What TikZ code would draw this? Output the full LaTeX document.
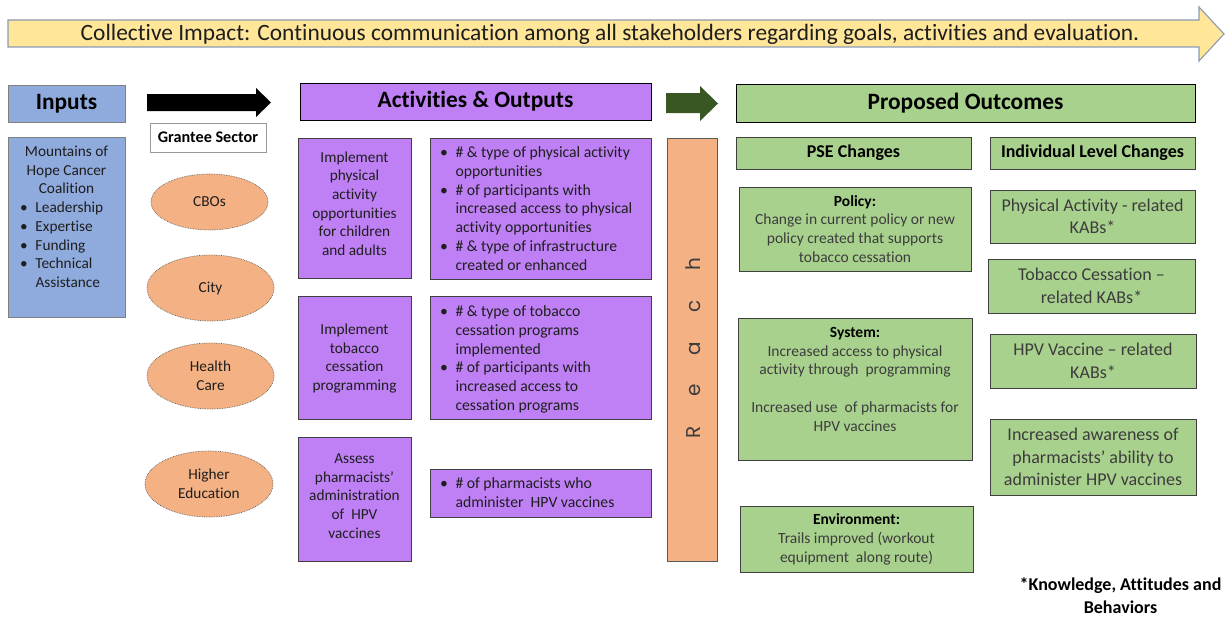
\documentclass[tikz,border=0pt]{standalone}
\usepackage{fontspec}
\setmainfont{Carlito}[Ligatures=NoCommon]
\newfontfamily\reachfont{Poppins}
\usetikzlibrary{shapes.geometric}
\definecolor{inblue}{RGB}{143,170,220}
\definecolor{purp}{RGB}{191,128,245}
\definecolor{orng}{RGB}{244,177,131}
\definecolor{grn}{RGB}{169,209,142}
\definecolor{dgrn}{RGB}{56,87,35}
\definecolor{ylw}{RGB}{255,230,153}
\definecolor{bannerline}{RGB}{140,155,178}
\definecolor{txt}{RGB}{30,30,30}
\definecolor{txtg}{RGB}{60,60,60}
\definecolor{edge}{RGB}{64,64,64}
\newcommand{\bl}{\makebox[15.5pt][l]{\textbullet}}
\newcommand{\ind}{\hspace*{15.5pt}}
\tikzset{
  every node/.style={inner sep=0pt, outer sep=0pt},
  blk/.style={anchor=north west, draw=edge, line width=0.9pt, align=center},
  body/.style={font=\fontsize{15.3}{18.7}\selectfont, text=txt},
  bodyr/.style={font=\fontsize{15.7}{18.8}\selectfont, text=txt},
  bodyg/.style={font=\fontsize{15.5}{18.9}\selectfont, text=txtg},
  headtxt/.style={font=\fontsize{23.4}{28}\selectfont\bfseries, text=black},
  subtxt/.style={font=\fontsize{18}{22}\selectfont\bfseries, text=black},
  kab/.style={font=\fontsize{18}{22.5}\selectfont, text=txtg},
  sector/.style={ellipse, draw=gray!75!black, densely dotted, line width=0.7pt, fill=orng, align=center, font=\fontsize{15.3}{18.7}\selectfont, text=txt},
}
\begin{document}
\begin{tikzpicture}[x=1pt,y=-1pt]
\useasboundingbox (0,0) rectangle (1226,618);

% banner arrow
\draw[fill=ylw, draw=bannerline, line width=1.1pt, line join=miter]
  (8,20) -- (1199,20) -- (1199,7) -- (1224,34) -- (1199,61) -- (1199,47) -- (8,47) -- cycle;
\node[font=\fontsize{23.4}{28}\selectfont, text=txt] (banner) at (610,34)
  {Collective Impact: Continuous communication among all stakeholders regarding goals, activities and evaluation.};

% inputs
\node[blk, fill=inblue, draw=gray, minimum width=117pt, minimum height=37pt, headtxt] (inhead) at (8,85) {Inputs};
\node[blk, fill=inblue, draw=gray, minimum width=117pt, minimum height=180pt] (inbox) at (8,137) {};
\node[anchor=north west, align=left, body] (intext) at (20,146)
  {\makebox[93pt]{Mountains of}\\ \makebox[93pt]{Hope Cancer}\\ \makebox[93pt]{Coalition}\\
   \bl Leadership\\ \bl Expertise\\ \bl Funding\\ \bl Technical\\ \ind Assistance};

% black arrow
\fill[black] (147,94) -- (256,94) -- (256,88) -- (271,102.5) -- (256,117) -- (256,111) -- (147,111) -- cycle;

% grantee sector
\node[blk, fill=white, draw=gray!80, line width=0.7pt, minimum width=116pt, minimum height=29pt,
      font=\fontsize{16.2}{19}\selectfont\bfseries] (grantee) at (150,123) {Grantee Sector};
\node[sector, minimum width=117pt, minimum height=56pt] (cbo) at (209.5,202) {CBOs};
\node[sector, minimum width=127pt, minimum height=66pt] (city) at (210.5,288) {City};
\node[sector, minimum width=127pt, minimum height=66pt] (health) at (210.5,376) {Health\\Care};
\node[sector, minimum width=128pt, minimum height=66pt] (higher) at (209,484) {Higher\\Education};

% activities & outputs
\node[blk, fill=purp, draw=black, minimum width=351pt, minimum height=37pt, headtxt] (acthead) at (300,83) {Activities \& Outputs};
\node[blk, fill=purp, minimum width=113pt, minimum height=140pt] (act1) at (298,138) {};
\node[align=center, body] (act1t) at ([yshift=4.5pt]act1.center)
  {Implement\\physical\\activity\\opportunities\\for children\\and adults};
\node[blk, fill=purp, minimum width=113pt, minimum height=123pt] (act2) at (298,296) {};
\node[align=center, body] (act2t) at ([yshift=-1pt]act2.center)
  {Implement\\tobacco\\cessation\\programming};
\node[blk, fill=purp, minimum width=113pt, minimum height=124pt] (act3) at (298,437) {};
\node[align=center, body] (act3t) at ([yshift=3pt]act3.center)
  {Assess\\pharmacists’\\administration\\of\ \ HPV\\vaccines};

\node[blk, fill=purp, minimum width=221pt, minimum height=141pt] (out1) at (430,138) {};
\node[anchor=north west, align=left, bodyr] (out1t) at (440,146.5)
  {\bl \# \& type of physical activity\\ \ind opportunities\\ \bl \# of participants with\\
   \ind increased access to physical\\ \ind activity opportunities\\ \bl \# \& type of infrastructure\\
   \ind created or enhanced};
\node[blk, fill=purp, minimum width=221pt, minimum height=123pt] (out2) at (430,296) {};
\node[anchor=north west, align=left, bodyr] (out2t) at (440,305.5)
  {\bl \# \& type of tobacco\\ \ind cessation programs\\ \ind implemented\\ \bl \# of participants with\\
   \ind increased access to\\ \ind cessation programs};
\node[blk, fill=purp, minimum width=221pt, minimum height=48pt] (out3) at (430,469) {};
\node[anchor=north west, align=left, bodyr] (out3t) at (440,477.5)
  {\bl \# of pharmacists who\\ \ind administer\ \ HPV vaccines};

% reach
\node[blk, fill=orng, draw=gray!70!black, minimum width=50pt, minimum height=423pt] (reach) at (667,138) {};
\node[rotate=90, anchor=base, font=\reachfont\fontsize{20}{24}\selectfont, text=txtg] (reacht) at (700,348.5)
  {\makebox[42pt]{R}\makebox[42pt]{e}\makebox[42pt]{a}\makebox[42pt]{c}\makebox[42pt]{h}};

% green arrow
\fill[dgrn] (666,93) -- (700,93) -- (700,86) -- (718,103.5) -- (700,121) -- (700,113) -- (666,113) -- cycle;

% outcomes
\node[blk, fill=grn, draw=black, minimum width=459pt, minimum height=38pt, headtxt] (outhead) at (736,84) {Proposed Outcomes};
\node[blk, fill=grn, minimum width=235pt, minimum height=32pt, subtxt] (pse) at (736,137) {PSE Changes};
\node[blk, fill=grn, minimum width=205pt, minimum height=32pt, subtxt] (indiv) at (990,137) {Individual Level Changes};

\node[blk, fill=grn, minimum width=232pt, minimum height=84pt, bodyg] (policy) at (739,187)
  {\textcolor{black}{\textbf{Policy:}}\\Change in current policy or new\\policy created that supports\\tobacco cessation};
\node[blk, fill=grn, minimum width=234pt, minimum height=142pt] (system) at (738,318) {};
\node[anchor=north, align=center, bodyg] (systemt) at (855,327)
  {\textcolor{black}{\textbf{System:}}\\Increased access to physical\\activity through\ \ programming\\[18.9pt]
   Increased use\ \ of pharmacists for\\HPV vaccines};
\node[blk, fill=grn, minimum width=233pt, minimum height=66pt, bodyg] (environ) at (740,506)
  {\textcolor{black}{\textbf{Environment:}}\\Trails improved (workout\\equipment\ \ along route)};

\node[blk, fill=grn, minimum width=205pt, minimum height=53pt, kab] (kab1) at (990,190)
  {Physical Activity - related\\KABs*};
\node[blk, fill=grn, minimum width=207pt, minimum height=54pt, kab] (kab2) at (988,259)
  {Tobacco Cessation –\\related KABs*};
\node[blk, fill=grn, minimum width=206pt, minimum height=54pt, kab] (kab3) at (990,334)
  {HPV Vaccine – related\\KABs*};
\node[blk, fill=grn, minimum width=206pt, minimum height=76pt, kab] (kab4) at (990,419)
  {Increased awareness of\\pharmacists’ ability to\\administer HPV vaccines};

\node[align=center, font=\fontsize{18}{22.5}\selectfont\bfseries, text=black] (foot) at (1120.5,595.5)
  {*Knowledge, Attitudes and\\Behaviors};
\end{tikzpicture}
\end{document}
